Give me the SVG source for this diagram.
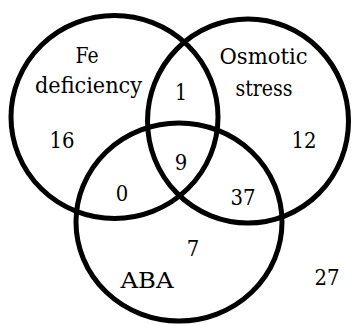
<svg xmlns="http://www.w3.org/2000/svg" width="352" height="325" viewBox="0 0 352 325">
<style>
.c{fill:none;stroke:#000;stroke-width:5}
.t{font-family:'DejaVu Serif Condensed','DejaVu Serif','Liberation Serif',serif;font-size:22.5px;fill:#000;text-anchor:middle}
</style>
<rect width="352" height="325" fill="#fff"/>
<g id="fe"><ellipse class="c" cx="114.5" cy="117" rx="103.5" ry="101.5"/>
<text class="t" x="87" y="63" textLength="23" lengthAdjust="spacingAndGlyphs">Fe</text><text class="t" x="88.5" y="93" textLength="107" lengthAdjust="spacingAndGlyphs">deficiency</text></g>
<g id="osmotic"><ellipse class="c" cx="248" cy="121" rx="100.5" ry="102"/>
<text class="t" x="263.5" y="64" textLength="88" lengthAdjust="spacingAndGlyphs">Osmotic</text><text class="t" x="264" y="96" textLength="57" lengthAdjust="spacingAndGlyphs">stress</text></g>
<g id="aba"><ellipse class="c" cx="179" cy="222" rx="103" ry="99"/>
<text class="t" x="147" y="288" textLength="53" lengthAdjust="spacingAndGlyphs">ABA</text></g>
<g id="counts">
<text class="t" x="62" y="148" textLength="25" lengthAdjust="spacingAndGlyphs">16</text>
<text class="t" x="181" y="100" textLength="12" lengthAdjust="spacingAndGlyphs">1</text>
<text class="t" x="304" y="148" textLength="25" lengthAdjust="spacingAndGlyphs">12</text>
<text class="t" x="181" y="170" textLength="12.5" lengthAdjust="spacingAndGlyphs">9</text>
<text class="t" x="122" y="201" textLength="12.5" lengthAdjust="spacingAndGlyphs">0</text>
<text class="t" x="243" y="205" textLength="25" lengthAdjust="spacingAndGlyphs">37</text>
<text class="t" x="193" y="256" textLength="12.5" lengthAdjust="spacingAndGlyphs">7</text>
<text class="t" x="327" y="285" textLength="25" lengthAdjust="spacingAndGlyphs">27</text>
</g>
</svg>
